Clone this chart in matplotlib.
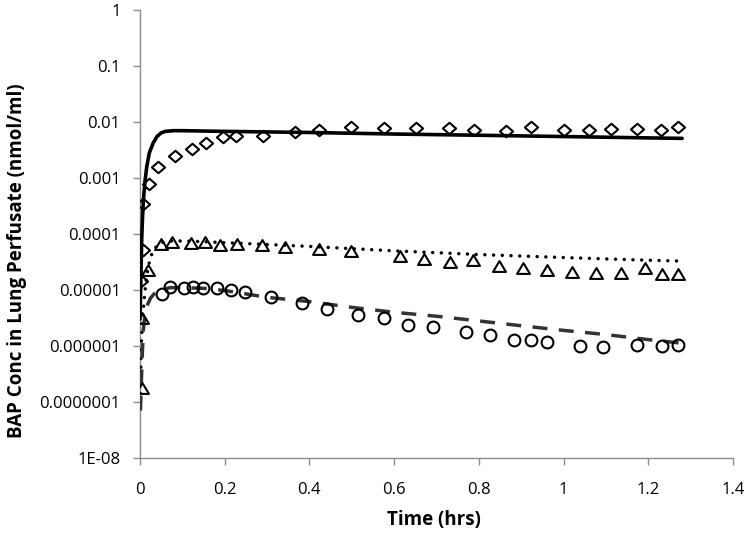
import matplotlib
matplotlib.use("Agg")
import matplotlib.pyplot as plt
from matplotlib.path import Path
from matplotlib.ticker import FixedLocator, FixedFormatter

plt.rcParams['font.family'] = ['Open Sans', 'DejaVu Sans']

# Observed data: diamonds (top series)
diam_t = [0.002, 0.006, 0.008, 0.021, 0.043, 0.083, 0.123, 0.156, 0.197, 0.226, 0.29,
          0.365, 0.423, 0.498, 0.575, 0.652, 0.729, 0.788, 0.864, 0.924, 1.0, 1.061,
          1.113, 1.174, 1.229, 1.269]
diam_v = [1.45e-5, 5.2e-5, 3.5e-4, 7.8e-4, 1.6e-3, 2.5e-3, 3.3e-3, 4.3e-3, 5.3e-3, 5.6e-3, 5.6e-3,
          6.7e-3, 7.2e-3, 8.3e-3, 7.7e-3, 7.7e-3, 7.7e-3, 7.2e-3, 7.0e-3, 8.3e-3, 7.2e-3, 7.2e-3,
          7.6e-3, 7.6e-3, 7.2e-3, 8.0e-3]

# Observed data: triangles (middle series)
tri_t = [0.004, 0.005, 0.020, 0.05, 0.0755, 0.12, 0.153, 0.189, 0.228, 0.289, 0.342,
         0.423, 0.497, 0.614, 0.671, 0.732, 0.786, 0.848, 0.904, 0.96, 1.021, 1.077,
         1.136, 1.193, 1.233, 1.269]
tri_v = [1.8e-7, 3.1e-6, 2.3e-5, 6.6e-5, 7.3e-5, 7.0e-5, 7.3e-5, 6.3e-5, 6.6e-5, 6.3e-5, 5.9e-5,
         5.4e-5, 5.0e-5, 4.1e-5, 3.6e-5, 3.2e-5, 3.4e-5, 2.7e-5, 2.5e-5, 2.3e-5, 2.1e-5, 2.0e-5,
         2.0e-5, 2.45e-5, 1.9e-5, 1.9e-5]

# Observed data: circles (bottom series)
circ_t = [0.051, 0.071, 0.104, 0.124, 0.148, 0.181, 0.214, 0.248, 0.3085, 0.382, 0.441,
          0.515, 0.577, 0.633, 0.692, 0.769, 0.826, 0.883, 0.922, 0.962, 1.039, 1.094,
          1.173, 1.232, 1.269]
circ_v = [8.4e-6, 1.12e-5, 1.07e-5, 1.12e-5, 1.07e-5, 1.07e-5, 1.0e-5, 9.1e-6, 7.6e-6, 5.9e-6, 4.5e-6,
          3.6e-6, 3.1e-6, 2.4e-6, 2.2e-6, 1.76e-6, 1.6e-6, 1.3e-6, 1.3e-6, 1.2e-6, 1.0e-6, 9.5e-7,
          1.05e-6, 1.0e-6, 1.05e-6]

# Model curves
solid_t = [0.0, 0.002, 0.004, 0.006, 0.008, 0.012, 0.016, 0.022, 0.031, 0.04, 0.05, 0.06, 0.08,
           0.1, 0.2, 0.4, 0.6, 0.8, 1.0, 1.2, 1.28]
solid_v = [3e-6, 1.5e-5, 8e-5, 2e-4, 4e-4, 9e-4, 1.6e-3, 2.8e-3, 4.2e-3, 5.5e-3, 6.4e-3, 6.8e-3, 7.0e-3,
           7.0e-3, 6.8e-3, 6.5e-3, 6.1e-3, 5.8e-3, 5.5e-3, 5.2e-3, 5.1e-3]

dot_t = [0.0, 0.003, 0.006, 0.01, 0.015, 0.02, 0.025, 0.03, 0.04, 0.05, 0.07, 0.1, 0.15,
         0.2, 0.3, 0.4, 0.6, 0.8, 1.0, 1.2, 1.27]
dot_v = [1e-7, 1e-6, 3e-6, 7e-6, 1.6e-5, 2.7e-5, 3.8e-5, 4.8e-5, 6.2e-5, 7e-5, 7.5e-5, 7.5e-5, 7.3e-5,
         7.0e-5, 6.5e-5, 6.0e-5, 5.0e-5, 4.3e-5, 3.8e-5, 3.4e-5, 3.3e-5]

dash_t = [0.001, 0.003, 0.005, 0.008, 0.012, 0.018, 0.025, 0.035, 0.05, 0.07, 0.1, 0.15, 0.2,
          0.3, 0.4, 0.5, 0.6, 0.7, 0.8, 0.9, 1.0, 1.1, 1.2, 1.28]
dash_v = [7e-8, 2e-7, 6e-7, 2e-6, 3.8e-6, 5.5e-6, 7.2e-6, 8.8e-6, 1.0e-5, 1.1e-5, 1.1e-5, 1.07e-5, 9.8e-6,
          7.4e-6, 6.2e-6, 4.9e-6, 4.0e-6, 3.4e-6, 2.8e-6, 2.3e-6, 1.9e-6, 1.6e-6, 1.3e-6, 1.12e-6]

x_ticks = [0, 0.2, 0.4, 0.6, 0.8, 1.0, 1.2, 1.4]
x_labels = ['0', '0.2', '0.4', '0.6', '0.8', '1', '1.2', '1.4']
y_ticks = [1e-8, 1e-7, 1e-6, 1e-5, 1e-4, 1e-3, 1e-2, 1e-1, 1]
y_labels = ['1E-08', '0.0000001', '0.000001', '0.00001', '0.0001', '0.001', '0.01', '0.1', '1']

# Marker shapes (slightly wider than tall, like the reference)
diamond_mk = Path([(-1.0, 0.0), (0.0, 0.87), (1.0, 0.0), (0.0, -0.87), (-1.0, 0.0)],
                  [Path.MOVETO, Path.LINETO, Path.LINETO, Path.LINETO, Path.CLOSEPOLY])
tri_mk = Path([(0.0, 0.84), (-1.0, -0.84), (1.0, -0.84), (0.0, 0.84)],
              [Path.MOVETO, Path.LINETO, Path.LINETO, Path.CLOSEPOLY])

fig = plt.figure(figsize=(7.48, 5.41), dpi=100)
ax = fig.add_axes([140/748, (541-458)/541, (733-140)/748, 448/541])

ax.plot(solid_t, solid_v, color='black', lw=2.6, solid_capstyle='round', zorder=3)
ax.plot(dot_t, dot_v, color='black', lw=2.5, linestyle=(0, (0.01, 2.5)),
        dash_capstyle='round', zorder=3)
ax.plot(dash_t, dash_v, color='#333333', lw=2.5, linestyle=(0, (4.3, 3.3)), zorder=3)

mk = dict(linestyle='none', markerfacecolor='none', markeredgecolor='black',
          markeredgewidth=1.5, zorder=4)
ax.plot(diam_t, diam_v, marker=diamond_mk, markersize=9.5, **mk)
ax.plot(tri_t, tri_v, marker=tri_mk, markersize=9.3, **mk)
ax.plot(circ_t, circ_v, marker='o', markersize=8.5, **mk)

ax.set_yscale('log')
ax.set_xlim(0, 1.4)
ax.set_ylim(1e-8, 1)
ax.yaxis.set_major_locator(FixedLocator(y_ticks))
ax.yaxis.set_major_formatter(FixedFormatter(y_labels))
ax.yaxis.set_minor_locator(FixedLocator([]))
ax.xaxis.set_major_locator(FixedLocator(x_ticks))
ax.xaxis.set_major_formatter(FixedFormatter(x_labels))

for s in ['top', 'right']:
    ax.spines[s].set_visible(False)
for s in ['left', 'bottom']:
    ax.spines[s].set_color('#8c8c8c')
    ax.spines[s].set_linewidth(1.0)
ax.tick_params(axis='both', which='major', direction='out', length=5, width=1,
               color='#8c8c8c', labelsize=12, labelcolor='black')
ax.tick_params(axis='y', pad=9)
ax.tick_params(axis='x', pad=12)

ax.set_xlabel('Time (hrs)', fontsize=13.5, fontweight='bold')
ax.set_ylabel('BAP Conc in Lung Perfusate (nmol/ml)', fontsize=13.5, fontweight='bold')
ax.xaxis.set_label_coords(0.495, -0.115)
ax.yaxis.set_label_coords(-0.19, 0.44)

fig.savefig('out.png', dpi=100)
